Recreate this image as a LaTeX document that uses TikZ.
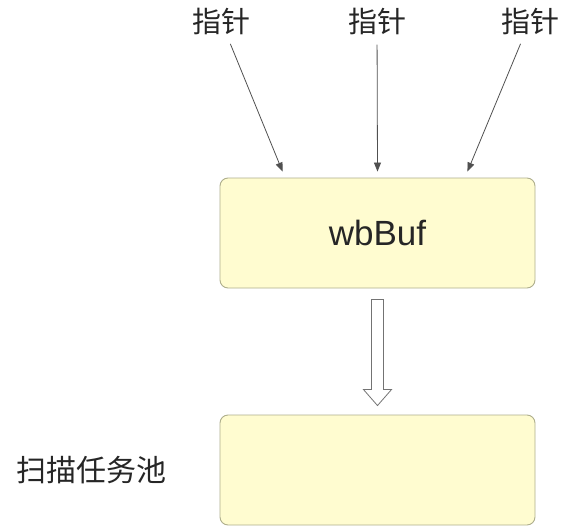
\documentclass[tikz,border=0pt]{standalone}
\usepackage{fontspec}
\setmainfont{Liberation Sans}
\newfontfamily\cjk{Noto Sans CJK SC}
\usepackage{tikz}
\usetikzlibrary{positioning, arrows.meta, calc}

\definecolor{boxfill}{HTML}{FFFCD0}
\definecolor{boxline}{HTML}{AEAE8C}
\definecolor{ptrline}{HTML}{505050}

\begin{document}
\begin{tikzpicture}[
x=1pt, y=-1pt,
every node/.style={align=center},
boxstyle/.style={draw=boxline, fill=boxfill, rounded corners=8pt, minimum width=315pt, minimum height=110pt, line width=0.9pt},
ptrlabel/.style={font=\cjk\fontsize{29}{32}\selectfont, text=black!85, inner sep=1pt},
ptrarrow/.style={-{Triangle[length=9pt, width=7pt]}, line width=0.8pt, draw=ptrline, shorten <=9pt},
hollow/.style={draw=ptrline!80, fill=white, line width=0.8pt, line join=miter}
]
\useasboundingbox (0,0) rectangle (565,530);
% buffer and pool
\node[boxstyle, font=\fontsize{35}{38}\selectfont, text=black!85] (buf) at (377.5,233) {wbBuf};
\node[boxstyle] (pool) at (377.5,470) {};
\node[font=\cjk\fontsize{30}{34}\selectfont, text=black!85, left=50pt of pool] (poollabel) {扫描任务池};
% pointers
\node[ptrlabel] (l1) at (221,21) {指针};
\node[ptrlabel] (l2) at (377,21) {指针};
\node[ptrlabel] (l3) at (530,21) {指针};
\coordinate (t1) at ($(buf.north west)+(63,-6)$);
\coordinate (t2) at ($(buf.north)+(0,-6)$);
\coordinate (t3) at ($(buf.north east)+(-68,-6)$);
\draw[ptrarrow] (l1) -- (t1);
\draw[ptrarrow] (l2) -- (t2);
\draw[ptrarrow] (l3) -- (t3);
% hollow arrow
\draw[hollow] ($(buf.south)+(-6,11)$) -- ($(buf.south)+(6,11)$)
  -- ($(pool.north)+(6,-25)$) -- ($(pool.north)+(14,-25)$)
  -- ($(pool.north)+(0,-9)$)
  -- ($(pool.north)+(-14,-25)$) -- ($(pool.north)+(-6,-25)$) -- cycle;
\end{tikzpicture}
\end{document}
